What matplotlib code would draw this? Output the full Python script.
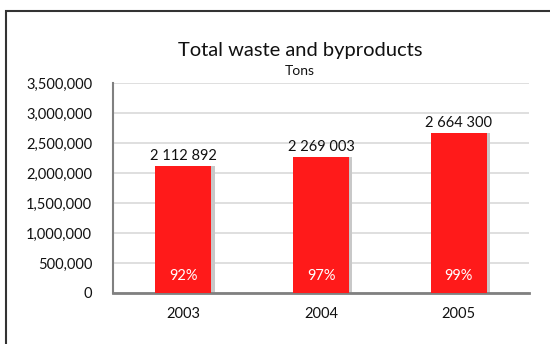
import matplotlib.pyplot as plt
from matplotlib.patches import Rectangle

years = ['2003', '2004', '2005']
tons = [2112892, 2269003, 2664300]
value_labels = ['2 112 892', '2 269 003', '2 664 300']
shares = ['92%', '97%', '99%']
yticks = [0, 500000, 1000000, 1500000, 2000000, 2500000, 3000000, 3500000]

plt.rcParams['font.family'] = ['Lato', 'DejaVu Sans']

fig = plt.figure(figsize=(5.5, 3.44), dpi=100)
ax = fig.add_axes([0.2055, 0.1483, 0.7563, 0.6104])

x = list(range(len(years)))
# shadow behind each bar
ax.bar([i + 0.025 for i in x], tons, 0.406, color='#c8c8c8', zorder=2)
ax.bar(x, tons, 0.406, color='#ff1a1a', zorder=3)

for i in x:
    ax.text(i, tons[i] + 55000, value_labels[i], ha='center', va='bottom',
            fontsize=10.5, color='#111111', zorder=4)
    ax.text(i, 290000, shares[i], ha='center', va='center',
            fontsize=10.5, color='white', zorder=4)

ax.set_xlim(-0.51, 2.51)
ax.set_ylim(0, 3500000)
ax.set_yticks(yticks)
ax.set_yticklabels(['{:,}'.format(v) for v in yticks])
ax.set_xticks(x)
ax.set_xticklabels(years)
ax.tick_params(axis='y', length=0, pad=15, labelsize=10.5, labelcolor='#111111')
ax.tick_params(axis='x', length=0, pad=10, labelsize=10.5, labelcolor='#111111')
ax.yaxis.grid(True, color='#d9d9d9', linewidth=1.2, zorder=0)
ax.set_axisbelow(True)

for s in ['top', 'right']:
    ax.spines[s].set_visible(False)
ax.spines['left'].set_color('#808080')
ax.spines['left'].set_linewidth(1.5)
ax.spines['bottom'].set_color('#808080')
ax.spines['bottom'].set_linewidth(2)

fig.text(0.545, 0.852, 'Total waste and byproducts', ha='center', va='center',
         fontsize=14.5, color='#111111')
fig.text(0.545, 0.793, 'Tons', ha='center', va='center', fontsize=10,
         color='#111111')

# outer frame, running off the right and bottom edges
fig.patches.append(Rectangle((6 / 550, -0.1), 1.2, 1.1 - 11 / 344,
                             transform=fig.transFigure, fill=False,
                             edgecolor='#333333', linewidth=1.5))

fig.savefig('out.png', dpi=100)
plt.close(fig)
